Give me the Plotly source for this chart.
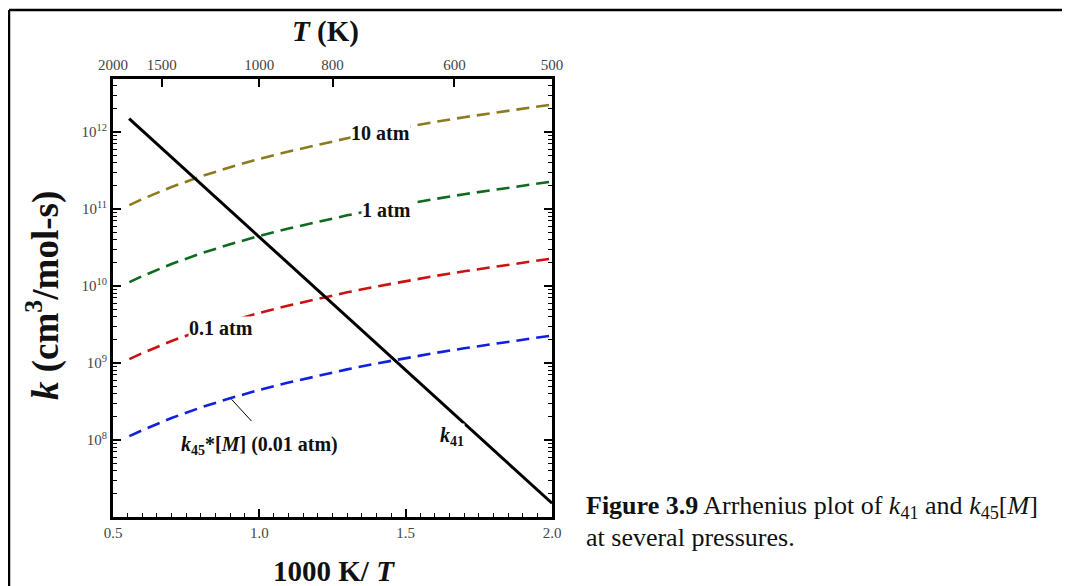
import plotly.graph_objects as go

# ---------------- data ----------------
INV_T = [0.556, 0.6, 0.7, 0.8, 0.9, 1.0, 1.1, 1.2, 1.3, 1.4, 1.5, 1.6, 1.7, 1.8, 1.9, 2.0]
K45M_10ATM = [1.12e11, 1.34e11, 1.93e11, 2.64e11, 3.48e11, 4.46e11, 5.57e11, 6.84e11,
              8.26e11, 9.84e11, 1.156e12, 1.346e12, 1.552e12, 1.774e12, 2.014e12, 2.27e12]
K45M_1ATM = [1.12e10, 1.34e10, 1.93e10, 2.64e10, 3.48e10, 4.46e10, 5.57e10, 6.84e10,
             8.26e10, 9.84e10, 1.156e11, 1.346e11, 1.552e11, 1.774e11, 2.014e11, 2.27e11]
K45M_01ATM = [1.12e9, 1.34e9, 1.93e9, 2.64e9, 3.48e9, 4.46e9, 5.57e9, 6.84e9,
              8.26e9, 9.84e9, 1.156e10, 1.346e10, 1.552e10, 1.774e10, 2.014e10, 2.27e10]
K45M_001ATM = [1.12e8, 1.34e8, 1.93e8, 2.64e8, 3.48e8, 4.46e8, 5.57e8, 6.84e8,
               8.26e8, 9.84e8, 1.156e9, 1.346e9, 1.552e9, 1.774e9, 2.014e9, 2.27e9]
K41_X = [0.555, 2.0]
K41 = [1.49e12, 1.51e7]

TOP_T_LABELS = ["2000", "1500", "1000", "800", "600", "500"]
TOP_T_VALUES = [2000, 1500, 1000, 800, 600, 500]
Y_TICKS = [1e8, 1e9, 1e10, 1e11, 1e12]
Y_TICK_TEXT = ["10<sup>8</sup>", "10<sup>9</sup>", "10<sup>10</sup>", "10<sup>11</sup>", "10<sup>12</sup>"]
X_TICKS = [0.5, 1.0, 1.5, 2.0]
X_TICK_TEXT = ["0.5", "1.0", "1.5", "2.0"]

SERIF = "Liberation Serif, Times New Roman, serif"
TICKFONT = dict(family=SERIF, size=15, color="#444444")

# figure geometry (the page body adds an 8px offset)
OFF = 8
W, H = 1070 - OFF, 586 - OFF
PL, PR, PT, PB = 105, 544, 71, 509   # plot area edges in figure pixels
PW, PH = PR - PL, PB - PT


def px(xr):
    return (xr - OFF - PL) / PW


def py(yr):
    return (PB - (yr - OFF)) / PH


fig = go.Figure()

dash = "13px,7px"
series = [
    (K45M_10ATM, "#8C7A1F"),
    (K45M_1ATM, "#0E6B1E"),
    (K45M_01ATM, "#CC1111"),
    (K45M_001ATM, "#1020DD"),
]
for vals, col in series:
    fig.add_trace(go.Scatter(x=INV_T, y=vals, mode="lines",
                             line=dict(color=col, width=2.6, dash=dash),
                             showlegend=False, hoverinfo="skip"))

fig.add_trace(go.Scatter(x=K41_X, y=K41, mode="lines",
                         line=dict(color="black", width=3),
                         showlegend=False, hoverinfo="skip"))

# invisible trace on top axis to activate it
fig.add_trace(go.Scatter(x=[0.5, 2.0], y=[1e8, 1e8], xaxis="x2", mode="lines",
                         line=dict(width=0), showlegend=False, hoverinfo="skip"))

minor_y = [m * 10 ** e for e in range(7, 13) for m in range(2, 10)]

fig.update_layout(
    width=W, height=H,
    margin=dict(l=PL, r=W - PR, t=PT, b=H - PB),
    paper_bgcolor="white", plot_bgcolor="white",
    xaxis=dict(
        range=[0.5, 2.0], tickvals=X_TICKS, ticktext=X_TICK_TEXT,
        ticks="inside", ticklen=8, tickwidth=1.5, tickcolor="black",
        showline=True, linecolor="black", linewidth=3, mirror=False,
        showgrid=False, zeroline=False, tickfont=TICKFONT,
        minor=dict(dtick=0.05, ticks="inside", ticklen=4, tickwidth=1.2, tickcolor="black", showgrid=False),
    ),
    xaxis2=dict(
        overlaying="x", side="top", range=[0.5, 2.0],
        tickvals=[1000.0 / t for t in TOP_T_VALUES], ticktext=TOP_T_LABELS,
        ticks="inside", ticklen=8, tickwidth=1.5, tickcolor="black",
        showline=True, linecolor="black", linewidth=3,
        showgrid=False, zeroline=False, tickfont=TICKFONT,
    ),
    yaxis=dict(
        type="log", range=[7, 12.687], tickvals=Y_TICKS, ticktext=Y_TICK_TEXT,
        ticks="inside", ticklen=8, tickwidth=1.5, tickcolor="black",
        showline=True, linecolor="black", linewidth=3, mirror="ticks",
        showgrid=False, zeroline=False, tickfont=TICKFONT,
        minor=dict(tickvals=minor_y, ticks="inside", ticklen=4, tickwidth=1.2, tickcolor="black", showgrid=False),
    ),
)

lab_font = dict(family=SERIF, size=20, color="#111111")
anns = [
    dict(x=1.415, y=11.99, text="<b>10 atm</b>"),
    dict(x=1.435, y=10.99, text="<b>1 atm</b>"),
    dict(x=0.868, y=9.46, text="<b>0.1 atm</b>"),
    dict(x=1.0, y=7.93, text="<b><i>k</i><sub>45</sub>*[<i>M</i>] (0.01 atm)</b>"),
    dict(x=1.659, y=8.05, text="<b><i>k</i><sub>41</sub></b>"),
]
for a in anns:
    fig.add_annotation(x=a["x"], y=a["y"], xref="x", yref="y", text=a["text"],
                       xanchor="center", yanchor="middle",
                       showarrow=False, font=lab_font, bgcolor="white", borderpad=0)

# pointer line for the 0.01 atm label
fig.add_annotation(x=0.905, y=8.528, ax=0.978, ay=8.226, xref="x", yref="y", axref="x", ayref="y",
                   text="", showarrow=True, arrowhead=0, arrowwidth=1, arrowcolor="black")

# axis titles
title_font = dict(family=SERIF, size=29, color="#111111")
fig.add_annotation(xref="paper", yref="paper", x=px(325), y=py(31), xanchor="center", yanchor="middle",
                   text="<b><i>T</i> (K)</b>", showarrow=False, font=title_font)
fig.add_annotation(xref="paper", yref="paper", x=px(334), y=py(571), xanchor="center", yanchor="middle",
                   text="<b>1000 K/ <i>T</i></b>", showarrow=False, font=title_font)
fig.add_annotation(xref="paper", yref="paper", x=px(43), y=py(296), xanchor="center", yanchor="middle",
                   text="<b><i>k</i> (cm<sup>3</sup>/mol-s)</b>", showarrow=False,
                   font=dict(family=SERIF, size=37, color="#111111"), textangle=-90)

# caption
cap_font = dict(family=SERIF, size=26, color="#111111")
fig.add_annotation(xref="paper", yref="paper", x=px(584), y=py(507),
                   xanchor="left", yanchor="middle", showarrow=False, font=cap_font,
                   text="<b>Figure 3.9</b> Arrhenius plot of <i>k</i><sub>41</sub> and <i>k</i><sub>45</sub>[<i>M</i>]")
fig.add_annotation(xref="paper", yref="paper", x=px(584), y=py(537),
                   xanchor="left", yanchor="middle", showarrow=False, font=cap_font,
                   text="at several pressures.")

# outer frame (left and top edges visible)
fig.add_shape(type="line", xref="paper", yref="paper",
              x0=px(9), x1=px(1080), y0=py(10), y1=py(10),
              line=dict(color="black", width=2.5))
fig.add_shape(type="line", xref="paper", yref="paper",
              x0=px(9), x1=px(9), y0=py(10), y1=py(600),
              line=dict(color="black", width=2.5))

fig.write_html("out.html")
